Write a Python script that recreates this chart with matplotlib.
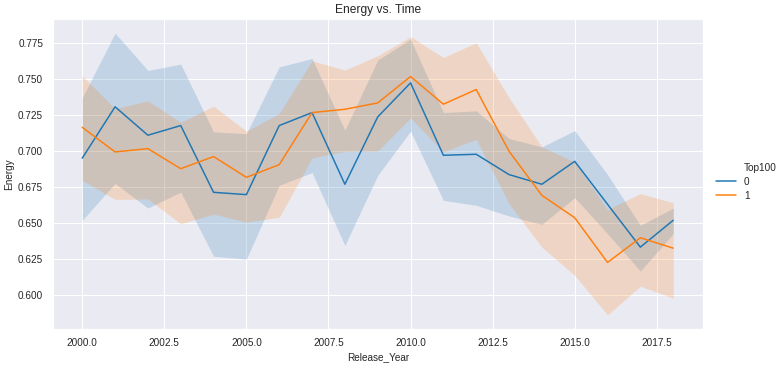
import matplotlib
matplotlib.use("Agg")
import matplotlib.pyplot as plt
import seaborn as sns
import numpy as np

sns.set_theme(style="darkgrid")
plt.rcParams['font.family'] = ['Liberation Sans', 'DejaVu Sans']

years = list(range(2000, 2019))

energy_0 = [0.695, 0.7306, 0.7109, 0.7176, 0.6713, 0.6697, 0.7176, 0.7266, 0.6769, 0.7236,
            0.7472, 0.697, 0.6977, 0.6836, 0.6769, 0.6928, 0.663, 0.6333, 0.6519]
lower_0 = [0.6519, 0.6775, 0.6604, 0.6715, 0.627, 0.625, 0.6762, 0.685, 0.6345, 0.6831,
           0.7137, 0.6657, 0.6623, 0.6549, 0.6491, 0.6676, 0.6426, 0.6167, 0.6426]
upper_0 = [0.7368, 0.7817, 0.7558, 0.7602, 0.7132, 0.712, 0.7583, 0.7641, 0.7144, 0.763,
           0.7775, 0.7266, 0.7278, 0.7086, 0.7028, 0.7141, 0.6836, 0.6484, 0.6604]

energy_1 = [0.7164, 0.6993, 0.7016, 0.6877, 0.6961, 0.6817, 0.6905, 0.7266, 0.7289, 0.7333,
            0.7516, 0.7324, 0.7426, 0.6998, 0.6692, 0.6537, 0.6227, 0.6398, 0.6326]
lower_1 = [0.6796, 0.6664, 0.6667, 0.6495, 0.6562, 0.6507, 0.654, 0.6951, 0.6998, 0.700,
           0.7229, 0.6993, 0.7081, 0.6634, 0.6333, 0.6137, 0.5863, 0.6062, 0.5979]
upper_1 = [0.7521, 0.7294, 0.7347, 0.7199, 0.731, 0.7137, 0.7259, 0.7625, 0.756, 0.766,
           0.7792, 0.7648, 0.775, 0.7368, 0.7028, 0.6924, 0.6593, 0.6704, 0.6641]

hue_title = 'Top100'
hue_labels = ['0', '1']
colors = ['#1f77b4', '#ff7f0e']

fig = plt.figure(figsize=(783 / 72, 366 / 72), dpi=72)
ax = fig.add_axes([0.0673, 0.1011, 0.8302, 0.8469])

series = [(energy_0, lower_0, upper_0), (energy_1, lower_1, upper_1)]
handles = []
for (vals, lo, hi), lab, c in zip(series, hue_labels, colors):
    ln, = ax.plot(years, vals, color=c, lw=1.5, label=lab)
    ax.fill_between(years, lo, hi, color=c, alpha=0.2, linewidth=0)
    handles.append(ln)

ax.set_title('Energy vs. Time', fontsize=12)
ax.set_xlabel('Release_Year', fontsize=10)
ax.set_ylabel('Energy', fontsize=10)
ax.tick_params(labelsize=10)
ax.yaxis.set_major_formatter(matplotlib.ticker.FormatStrFormatter('%.3f'))
ax.xaxis.set_major_formatter(matplotlib.ticker.FormatStrFormatter('%.1f'))

blank, = ax.plot([], [], color='none', lw=0)
fig.legend(handles=[blank] + handles, labels=[hue_title] + hue_labels, loc='center left',
           bbox_to_anchor=(0.903, 0.503), frameon=False, fontsize=10,
           labelspacing=0.4)

fig.savefig('out.png', dpi=72)
